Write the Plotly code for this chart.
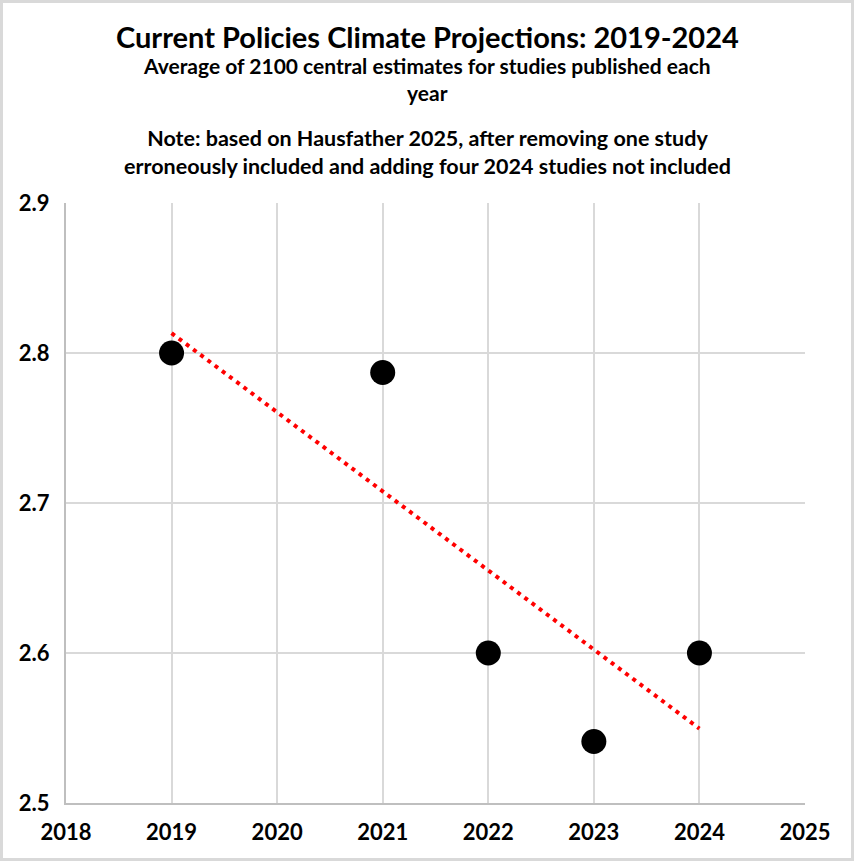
import numpy as np
import plotly.graph_objects as go

# values
years = [2019, 2021, 2022, 2023, 2024]
temps = [2.80, 2.787, 2.60, 2.541, 2.60]

x_ticks = [2018, 2019, 2020, 2021, 2022, 2023, 2024, 2025]
y_ticks = [2.5, 2.6, 2.7, 2.8, 2.9]

title_text = "Current Policies Climate Projections: 2019-2024"
sub_text = "Average of 2100 central estimates for studies published each<br>year"
note_text = ("Note: based on Hausfather 2025, after removing one study<br>"
             "erroneously included and adding four 2024 studies not included")

FONT = "Lato"
W, H = 854, 861
ML, MR, MT, MB = 66, 49, 203, 58

# linear trend line (least squares) like the Excel trendline
slope, intercept = np.polyfit(years, temps, 1)
trend_x = [years[0], years[-1]]
trend_y = [slope * x + intercept for x in trend_x]

fig = go.Figure()
fig.add_trace(go.Scatter(
    x=trend_x, y=trend_y, mode="lines",
    line=dict(color="#ff0000", width=4, dash="4px,5px"),
    showlegend=False, hoverinfo="skip",
))
fig.add_trace(go.Scatter(
    x=years, y=temps, mode="markers",
    marker=dict(color="black", size=25),
    showlegend=False,
))

fig.update_layout(
    width=W, height=H,
    margin=dict(l=ML, r=MR, t=MT, b=MB),
    paper_bgcolor="white", plot_bgcolor="white",
    font=dict(family=FONT, color="black"),
    showlegend=False,
)

plot_h = H - MT - MB
plot_w = W - ML - MR


def py(pix):
    # pixel from top -> paper y
    return (H - MB - pix) / plot_h


def px_(pix):
    return (pix - ML) / plot_w


fig.add_annotation(text="<b>" + title_text + "</b>", x=px_(427), y=py(36), xref="paper", yref="paper",
                   showarrow=False, font=dict(size=29, family=FONT), xanchor="center", yanchor="middle")
fig.add_annotation(text="<b>" + sub_text + "</b>", x=px_(427), y=py(79), xref="paper", yref="paper",
                   showarrow=False, font=dict(size=21, family=FONT), xanchor="center", yanchor="middle",
                   align="center")
fig.add_annotation(text="<b>" + note_text + "</b>", x=px_(427), y=py(152), xref="paper", yref="paper",
                   showarrow=False, font=dict(size=21.5, family=FONT), xanchor="center", yanchor="middle",
                   align="center")

# outer grey border of the chart area
fig.add_shape(type="rect", xref="paper", yref="paper",
              x0=px_(1.5), x1=px_(852.5), y0=py(859.5), y1=py(1.5),
              line=dict(color="#d9d9d9", width=3))

fig.update_xaxes(
    range=[2018, 2025], tickvals=x_ticks, ticktext=["<b>%d</b>" % t for t in x_ticks],
    showgrid=True, gridcolor="#d9d9d9", gridwidth=1.5,
    showline=True, linecolor="#bfbfbf", linewidth=2, zeroline=False,
    tickfont=dict(size=22, family=FONT), ticks="", ticklabelstandoff=9,
)
fig.update_yaxes(
    range=[2.5, 2.9], tickvals=y_ticks, ticktext=["<b>%.1f</b>" % t for t in y_ticks],
    showgrid=True, gridcolor="#d9d9d9", gridwidth=1.5,
    showline=True, linecolor="#bfbfbf", linewidth=2, zeroline=False,
    tickfont=dict(size=22, family=FONT), ticks="", ticklabelstandoff=10,
)

# drop the default body margin so the figure sits at the window's top-left corner
fig.write_html("out.html", config={"displayModeBar": False},
               post_script="document.body.style.margin='0';")
